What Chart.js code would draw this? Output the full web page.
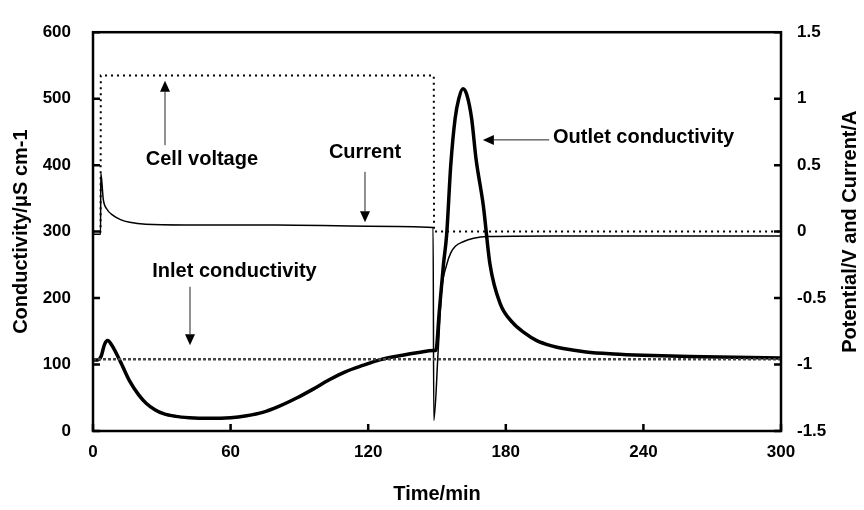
<!DOCTYPE html>
<html><head><meta charset="utf-8">
<script src="https://cdn.jsdelivr.net/npm/chart.js@4.4.1/dist/chart.umd.min.js"></script>
<style>html,body{margin:0;padding:0;background:#fff;}#wrap{width:864px;height:510px;}</style>
</head><body><div id="wrap"><canvas id="c" width="864" height="510"></canvas></div>
<script>
// ---- data ----
const timeTicks = [0, 60, 120, 180, 240, 300];
const condTicks = [0, 100, 200, 300, 400, 500, 600];
const potTicks = [-1.5, -1, -0.5, 0, 0.5, 1, 1.5];

const outletTime = [0, 2, 3.5, 5, 6.4, 8, 12, 16, 20, 23.4, 27, 30.7, 36, 42, 50, 60, 67, 74, 81, 89, 96, 103, 110, 118, 125, 135, 142, 148.4, 149.5, 151, 152.8, 154.2, 156, 157.9, 159.5, 161.3, 163, 165.1, 167, 170.2, 173.1, 177.5, 183, 188, 193.5, 200, 205, 215, 227, 240, 260, 280, 300];
const outletCond = [107, 107, 112, 130, 136, 130, 104, 75, 54, 41, 32, 26, 22, 20, 19, 20, 23, 28, 37, 50, 63, 77, 89, 99, 107, 114, 118, 121, 121, 180, 250, 295, 400, 470, 500, 515, 506, 470, 410, 339, 251, 192, 163, 148, 136, 128, 124, 119, 116, 114, 112, 111, 110];

const inletTime = [0, 50, 100, 150, 200, 250, 300];
const inletCond = [108, 108, 108, 108, 108, 108, 108];

const voltTime = [0, 3.3, 3.4, 148.6, 148.7, 300];
const voltValue = [0, 0, 1.175, 1.175, 0, 0];

const currTime = [0, 3.3, 3.4, 4.5, 6, 8.9, 12, 16, 23, 40, 80, 120, 148.3, 148.6, 150.5, 152, 154.2, 156, 158, 161.4, 166, 172, 200, 300];
const currValue = [-0.02, -0.02, 0.44, 0.24, 0.17, 0.12, 0.09, 0.07, 0.055, 0.05, 0.05, 0.04, 0.03, -1.42, -0.9, -0.45, -0.25, -0.16, -0.11, -0.076, -0.05, -0.037, -0.033, -0.033];

// ---- helpers ----
const zip = (xs, ys) => xs.map((x, i) => ({x: x, y: ys[i]}));
const FONT = '"Liberation Sans", Arial, sans-serif';

const labels = [
  {text: 'Cell voltage', x: 47.5, y: 408, align: 'center'},
  {text: 'Current', x: 118.6, y: 419, align: 'center'},
  {text: 'Inlet conductivity', x: 61.7, y: 240, align: 'center'},
  {text: 'Outlet conductivity', x: 200.6, y: 441, align: 'left'}
];
const arrows = [
  {x1: 31.4, y1: 430, x2: 31.4, y2: 527},
  {x1: 118.6, y1: 390, x2: 118.6, y2: 314},
  {x1: 42.3, y1: 217, x2: 42.3, y2: 129},
  {x1: 198.9, y1: 438, x2: 170, y2: 438}
];

const decor = {
  id: 'decor',
  afterDatasetsDraw(chart) {
    const ctx = chart.ctx, a = chart.chartArea;
    const xs = chart.scales.x, ys = chart.scales.y, y2 = chart.scales.y2;
    ctx.save();
    ctx.strokeStyle = '#000'; ctx.lineWidth = 2.5;
    ctx.strokeRect(a.left, a.top, a.right - a.left, a.bottom - a.top);
    ctx.beginPath();
    timeTicks.forEach(t => { const p = xs.getPixelForValue(t); ctx.moveTo(p, a.bottom); ctx.lineTo(p, a.bottom - 7); });
    condTicks.forEach(v => { const p = ys.getPixelForValue(v); ctx.moveTo(a.left, p); ctx.lineTo(a.left + 7, p); });
    potTicks.forEach(v => { const p = y2.getPixelForValue(v); ctx.moveTo(a.right, p); ctx.lineTo(a.right - 7, p); });
    ctx.stroke();
    ctx.strokeStyle = '#222'; ctx.fillStyle = '#000'; ctx.lineWidth = 1;
    arrows.forEach(ar => {
      const px1 = xs.getPixelForValue(ar.x1), py1 = ys.getPixelForValue(ar.y1);
      const px2 = xs.getPixelForValue(ar.x2), py2 = ys.getPixelForValue(ar.y2);
      const ang = Math.atan2(py2 - py1, px2 - px1);
      const L = 11, W = 5;
      ctx.beginPath(); ctx.moveTo(px1, py1);
      ctx.lineTo(px2 - L * Math.cos(ang), py2 - L * Math.sin(ang)); ctx.stroke();
      ctx.beginPath(); ctx.moveTo(px2, py2);
      ctx.lineTo(px2 - L * Math.cos(ang) - W * Math.sin(ang), py2 - L * Math.sin(ang) + W * Math.cos(ang));
      ctx.lineTo(px2 - L * Math.cos(ang) + W * Math.sin(ang), py2 - L * Math.sin(ang) - W * Math.cos(ang));
      ctx.closePath(); ctx.fill();
    });
    ctx.fillStyle = '#000'; ctx.font = 'bold 20px ' + FONT; ctx.textBaseline = 'middle';
    labels.forEach(l => {
      ctx.textAlign = l.align;
      ctx.fillText(l.text, xs.getPixelForValue(l.x), ys.getPixelForValue(l.y));
    });
    ctx.font = 'bold 20px ' + FONT; ctx.textAlign = 'center';
    ctx.fillText('Time/min', (a.left + a.right) / 2, 494);
    ctx.save(); ctx.translate(21, (a.top + a.bottom) / 2); ctx.rotate(-Math.PI / 2);
    ctx.fillText('Conductivity/\u03bcS cm-1', 0, 0); ctx.restore();
    ctx.save(); ctx.translate(850, (a.top + a.bottom) / 2); ctx.rotate(-Math.PI / 2);
    ctx.fillText('Potential/V and Current/A', 0, 0); ctx.restore();
    ctx.restore();
  }
};

const tickFont = {family: FONT, size: 17, weight: 'bold'};
const setTicks = arr => (scale) => { scale.ticks = arr.map(v => ({value: v})); };

new Chart(document.getElementById('c'), {
  type: 'line',
  data: {
    datasets: [
      {label: 'Inlet conductivity', data: zip(inletTime, inletCond), yAxisID: 'y', borderColor: '#444', borderWidth: 2.5, borderDash: [3, 2], pointRadius: 0, tension: 0},
      {label: 'Cell voltage', data: zip(voltTime, voltValue), yAxisID: 'y2', borderColor: '#000', borderWidth: 2, borderDash: [2, 4], pointRadius: 0, tension: 0},
      {label: 'Current', data: zip(currTime, currValue), yAxisID: 'y2', borderColor: '#000', borderWidth: 1.5, pointRadius: 0, cubicInterpolationMode: 'monotone'},
      {label: 'Outlet conductivity', data: zip(outletTime, outletCond), yAxisID: 'y', borderColor: '#000', borderWidth: 3.5, pointRadius: 0, cubicInterpolationMode: 'monotone'}
    ]
  },
  options: {
    responsive: false, animation: false, devicePixelRatio: 1,
    layout: {padding: {top: 22, left: 0, right: 0, bottom: 0}},
    plugins: {legend: {display: false}, tooltip: {enabled: false}},
    scales: {
      x: {type: 'linear', min: 0, max: 300, afterBuildTicks: setTicks(timeTicks),
          grid: {display: false, drawTicks: false}, border: {display: false},
          ticks: {font: tickFont, color: '#000', padding: 11, maxRotation: 0},
          afterFit: s => { s.height = 79; }},
      y: {position: 'left', min: 0, max: 600, afterBuildTicks: setTicks(condTicks),
          grid: {display: false, drawTicks: false}, border: {display: false},
          ticks: {font: tickFont, color: '#000', padding: 22},
          afterFit: s => { s.width = 93; }},
      y2: {position: 'right', min: -1.5, max: 1.5, afterBuildTicks: setTicks(potTicks),
          grid: {display: false, drawTicks: false}, border: {display: false},
          ticks: {font: tickFont, color: '#000', padding: 16, callback: v => String(v)},
          afterFit: s => { s.width = 83; }}
    }
  },
  plugins: [decor]
});
</script></body></html>
